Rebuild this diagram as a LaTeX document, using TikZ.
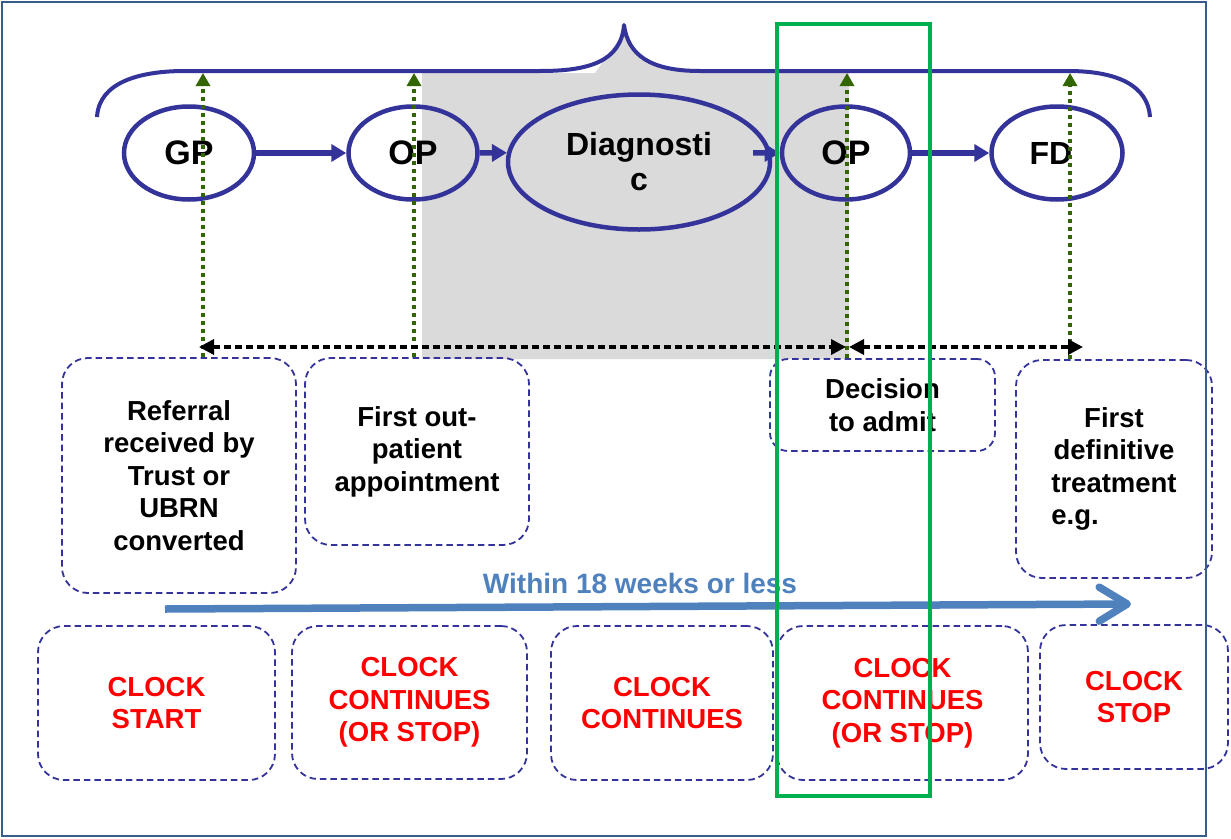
\documentclass[tikz,border=0pt]{standalone}
\usepackage{fontspec}
\setmainfont{Liberation Sans}
\usetikzlibrary{shapes.geometric,arrows.meta,calc}
\definecolor{navy}{RGB}{51,51,153}
\definecolor{grayfill}{RGB}{218,218,218}
\definecolor{dkgreen}{RGB}{51,102,0}
\definecolor{hlgreen}{RGB}{0,176,80}
\definecolor{steel}{RGB}{79,129,189}
\definecolor{framec}{RGB}{56,93,138}
\begin{document}
\begin{tikzpicture}[x=1pt,y=-1pt,
  ell/.style={ellipse, draw=navy, line width=4.5pt, inner sep=0pt, font=\bfseries\fontsize{34}{36}\selectfont},
  flow/.style={navy, line width=5.5pt, -{Triangle[length=15pt,width=17pt]}},
  dotarrow/.style={dkgreen, line width=4.3pt, dash pattern=on 4.5pt off 3.5pt, -{Triangle[length=13pt,width=14pt]}},
  dasharrow/.style={black, line width=3.5pt, dash pattern=on 7pt off 4pt, {Triangle[length=15pt,width=15pt]}-{Triangle[length=15pt,width=15pt]}},
  infobox/.style={draw=navy, line width=1.8pt, dash pattern=on 6.5pt off 4pt, rounded corners=26pt, align=center, inner sep=0pt, font=\bfseries\fontsize{27.5}{32.5}\selectfont},
  clockbox/.style={infobox, text=red},
  bigarrow/.style={steel, line width=7.5pt, -{Straight Barb[length=28pt,width=34pt,round]}},
]
\useasboundingbox (0,0) rectangle (1231,838);
% grey background band
\fill[grayfill] (422,73) -- (595,73) -- (624,32) .. controls (630,55) and (650,71) .. (698,73) -- (849,73) -- (849,359) -- (422,359) -- cycle;
% brace
\draw[navy, line width=4pt, line join=round] (97,117) .. controls (99,82) and (140,71) .. (185,71) -- (540,71)
  .. controls (588,71) and (621,62) .. (624,25)
  .. controls (628,55) and (650,71) .. (700,71) -- (1068,71)
  .. controls (1118,71) and (1148,86) .. (1150,117);
% ellipses
\node[ell, minimum width=130, minimum height=93] (gp) at (189,153) {GP};
\node[ell, minimum width=129, minimum height=93] (op1) at (413,153) {OP};
\node[ell, minimum width=262, minimum height=135, align=center, font=\bfseries\fontsize{32}{35}\selectfont] (diag) at (639,162) {Diagnosti\\c};
\node[ell, minimum width=128, minimum height=93] (op2) at (846,153) {OP};
\node[ell, minimum width=131, minimum height=93, font=\bfseries\fontsize{32}{35}\selectfont] (fd) at (1057,153) {FD\hspace*{12pt}};
% flow arrows
\draw[flow] (gp.east) -- (op1.west);
\draw[flow] (op1.east) -- (diag.176);
\draw[flow] ($(diag.4)+(-18,0)$) -- (op2.west);
\draw[flow] (op2.east) -- (fd.west);
% info boxes
\node[infobox, minimum width=234, minimum height=235] (ref) at (179,475.5) {Referral\\received by\\Trust or\\UBRN\\converted};
\node[infobox, minimum width=224, minimum height=187] (fop) at (417,451.5) {First out-\\patient\\appointment};
\node[infobox, rounded corners=18pt, minimum width=225, minimum height=92] (dta) at (882.5,405) {Decision\\to admit};
\node[infobox, minimum width=196, minimum height=218] (fdt) at (1114,469) {First\\definitive\\treatment\\\makebox[4.556em][l]{e.g.}};
% clock boxes
\node[clockbox, minimum width=237, minimum height=154] (c1) at (156.5,703) {CLOCK\\START};
\node[clockbox, minimum width=235, minimum height=153] (c2) at (409.5,702.5) {CLOCK\\CONTINUES\\(OR STOP)};
\node[clockbox, minimum width=222, minimum height=154] (c3) at (662,703) {CLOCK\\CONTINUES};
\node[clockbox, minimum width=251, minimum height=154] (c4) at (902.5,703) {CLOCK\\CONTINUES\\(OR STOP)};
\node[clockbox, minimum width=188, minimum height=144] (c5) at (1134,697) {CLOCK\\STOP};
% green dotted arrows to the brace
\coordinate (t1) at (203,73);
\coordinate (t2) at (414,73);
\coordinate (t3) at (847,73);
\coordinate (t4) at (1070,73);
\draw[dotarrow] (ref.north -| t1) -- (t1);
\draw[dotarrow] (fop.north -| t2) -- (t2);
\draw[dotarrow] (dta.north -| t3) -- (t3);
\draw[dotarrow] (fdt.north -| t4) -- (t4);
% black dashed double arrows
\coordinate (h1) at (199,347);
\coordinate (h2) at (846,347);
\coordinate (h3) at (849,347);
\coordinate (h4) at (1083,347);
\draw[dasharrow] (h1) -- (h2);
\draw[dasharrow] (h3) -- (h4);
% big blue arrow
\coordinate (ws) at (165,609);
\coordinate (we) at (1131,604);
\draw[bigarrow] (ws) -- (we);
\node[text=steel, font=\bfseries\fontsize{28}{32}\selectfont] (wl) at (640,583) {Within 18 weeks or less};
% green highlight rectangle
\node[draw=hlgreen, line width=4pt, minimum width=153, minimum height=772, inner sep=0pt] (hl) at (853.5,410) {};
% frame
\draw[framec, line width=1.5pt] (2,2) rectangle (1206,836);
\end{tikzpicture}
\end{document}
